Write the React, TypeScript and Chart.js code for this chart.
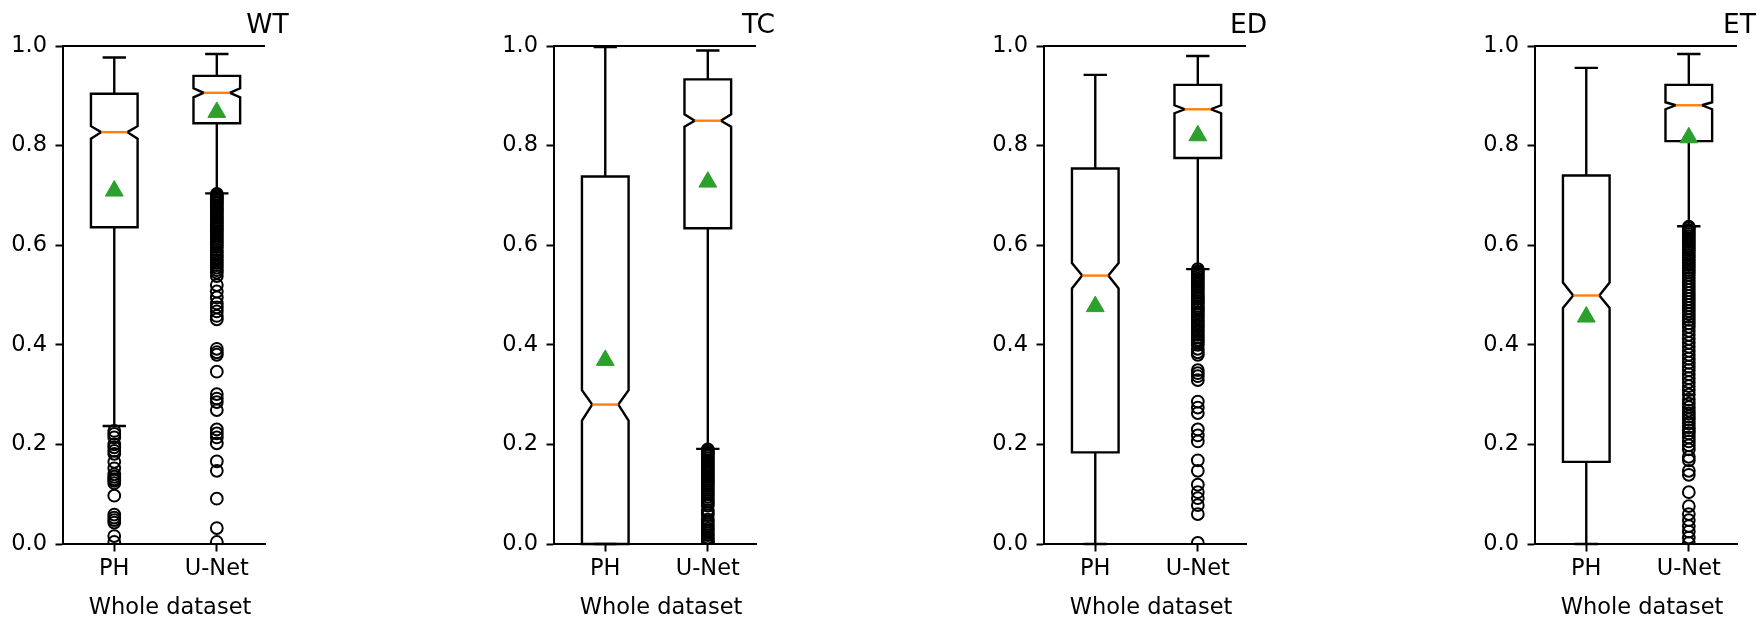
import React, { useEffect, useRef } from 'react';
import { Chart, registerables } from 'chart.js';

Chart.register(...registerables);

// ---------------- data ----------------
const categories = ['PH', 'U-Net'];
const panelTitles = ['WT', 'TC', 'ED', 'ET'];
const xAxisTitle = 'Whole dataset';
const yTickStep = 0.2;

// each row: one panel, [PH, U-Net]
const whiskerLow = [[0.237, 0.704], [0.0, 0.191], [0.0, 0.552], [0.0, 0.638]];
const q1Values = [[0.636, 0.845], [0.0, 0.634], [0.184, 0.775], [0.165, 0.809]];
const notchLow = [[0.814, 0.897], [0.248, 0.838], [0.513, 0.865], [0.474, 0.873]];
const medianValues = [[0.827, 0.906], [0.28, 0.85], [0.539, 0.873], [0.499, 0.881]];
const notchHigh = [[0.839, 0.915], [0.309, 0.863], [0.564, 0.881], [0.525, 0.887]];
const q3Values = [[0.904, 0.94], [0.738, 0.933], [0.754, 0.922], [0.74, 0.922]];
const whiskerHigh = [[0.977, 0.984], [0.998, 0.991], [0.942, 0.98], [0.956, 0.984]];
const meanValues = [[0.709, 0.867], [0.369, 0.727], [0.477, 0.82], [0.456, 0.816]];

const wtPhOutliers = [0.227, 0.221, 0.214, 0.2, 0.194, 0.187, 0.181, 0.165, 0.152, 0.14, 0.135, 0.13, 0.127, 0.122, 0.097, 0.059, 0.053, 0.048, 0.043, 0.016, 0.004];
const wtUnetOutliers = [0.703, 0.7, 0.697, 0.694, 0.69, 0.687, 0.684, 0.68, 0.677, 0.673, 0.67, 0.666, 0.662, 0.658, 0.655, 0.651, 0.648, 0.644, 0.64, 0.636, 0.632, 0.628, 0.624, 0.62, 0.616, 0.612, 0.608, 0.604, 0.6, 0.596, 0.59, 0.585, 0.58, 0.575, 0.57, 0.565, 0.56, 0.555, 0.55, 0.545, 0.538, 0.52, 0.507, 0.495, 0.483, 0.475, 0.467, 0.458, 0.451, 0.392, 0.385, 0.38, 0.346, 0.301, 0.292, 0.285, 0.269, 0.23, 0.222, 0.214, 0.202, 0.166, 0.147, 0.091, 0.032, 0.004];
const tcPhOutliers: number[] = [];
const tcUnetOutliers = [0.19, 0.186, 0.183, 0.18, 0.176, 0.172, 0.168, 0.165, 0.161, 0.158, 0.154, 0.15, 0.146, 0.142, 0.138, 0.135, 0.131, 0.127, 0.123, 0.12, 0.116, 0.112, 0.108, 0.104, 0.1, 0.095, 0.09, 0.086, 0.081, 0.077, 0.068, 0.063, 0.058, 0.049, 0.045, 0.04, 0.036, 0.031, 0.027, 0.022, 0.018, 0.013, 0.009, 0.005, 0.002, 0.0];
const edPhOutliers: number[] = [];
const edUnetOutliers = [0.552, 0.548, 0.545, 0.541, 0.537, 0.533, 0.53, 0.526, 0.522, 0.518, 0.514, 0.51, 0.505, 0.5, 0.496, 0.492, 0.487, 0.483, 0.478, 0.474, 0.47, 0.465, 0.46, 0.455, 0.45, 0.445, 0.44, 0.435, 0.43, 0.425, 0.42, 0.415, 0.41, 0.405, 0.4, 0.392, 0.385, 0.38, 0.349, 0.343, 0.337, 0.329, 0.286, 0.274, 0.263, 0.23, 0.218, 0.206, 0.168, 0.147, 0.119, 0.104, 0.092, 0.078, 0.06, 0.002];
const etPhOutliers: number[] = [];
const etUnetOutliers = [0.637, 0.634, 0.63, 0.626, 0.622, 0.618, 0.614, 0.61, 0.606, 0.602, 0.598, 0.594, 0.59, 0.585, 0.58, 0.575, 0.57, 0.565, 0.56, 0.555, 0.55, 0.545, 0.54, 0.534, 0.528, 0.522, 0.516, 0.51, 0.504, 0.498, 0.492, 0.486, 0.48, 0.474, 0.468, 0.462, 0.456, 0.45, 0.443, 0.436, 0.428, 0.42, 0.412, 0.404, 0.396, 0.388, 0.38, 0.372, 0.364, 0.356, 0.349, 0.341, 0.333, 0.325, 0.317, 0.309, 0.3, 0.29, 0.282, 0.275, 0.268, 0.262, 0.256, 0.25, 0.242, 0.234, 0.228, 0.222, 0.214, 0.206, 0.198, 0.19, 0.175, 0.168, 0.147, 0.139, 0.104, 0.076, 0.06, 0.048, 0.036, 0.025, 0.013, 0.002];

const outliers = [
  [wtPhOutliers, wtUnetOutliers],
  [tcPhOutliers, tcUnetOutliers],
  [edPhOutliers, edUnetOutliers],
  [etPhOutliers, etUnetOutliers],
];

// ---------------- style / layout ----------------
const FONT = '"DejaVu Sans", "Liberation Sans", sans-serif';
const TICK_FONT = 22.5;
const TITLE_FONT = 26.5;
const panelLeft = [0, 491, 981, 1472];
const CANVAS_W = 290;
const CANVAS_H = 618;
const BOX_WIDTH = 0.455;
const NOTCH_FRAC = 0.28;
const LW = 2.4;
const SPINE_W = 2.0;
const ORANGE = '#ff7f0e';
const GREEN = '#2ca02c';

const boxPlugin = {
  id: 'notchedBox',
  beforeDatasetsDraw(chart: any, _args: any, opts: any) {
    const p = opts.panel;
    const { ctx, chartArea, scales } = chart;
    const xs = scales.x;
    const ys = scales.y;
    const X = (v: number) => xs.getPixelForValue(v);
    const Y = (v: number) => ys.getPixelForValue(v);
    ctx.save();
    ctx.beginPath();
    ctx.rect(chartArea.left, chartArea.top - 2, chartArea.right - chartArea.left, chartArea.bottom - chartArea.top + 4);
    ctx.clip();
    categories.forEach((_c, i) => {
      const pos = i + 1;
      const cx = X(pos);
      const L = X(pos - BOX_WIDTH / 2);
      const R = X(pos + BOX_WIDTH / 2);
      const NL = X(pos - BOX_WIDTH * NOTCH_FRAC);
      const NR = X(pos + BOX_WIDTH * NOTCH_FRAC);
      const CL = X(pos - BOX_WIDTH / 4);
      const CR = X(pos + BOX_WIDTH / 4);
      const q1 = Y(q1Values[p][i]);
      const q3 = Y(q3Values[p][i]);
      const med = Y(medianValues[p][i]);
      const lo = Y(notchLow[p][i]);
      const hi = Y(notchHigh[p][i]);
      const wl = Y(whiskerLow[p][i]);
      const wh = Y(whiskerHigh[p][i]);
      ctx.strokeStyle = '#000';
      ctx.lineWidth = LW;
      ctx.lineJoin = 'miter';
      ctx.lineCap = 'butt';
      // box
      ctx.beginPath();
      ctx.moveTo(L, q1);
      ctx.lineTo(R, q1);
      ctx.lineTo(R, lo);
      ctx.lineTo(NR, med);
      ctx.lineTo(R, hi);
      ctx.lineTo(R, q3);
      ctx.lineTo(L, q3);
      ctx.lineTo(L, hi);
      ctx.lineTo(NL, med);
      ctx.lineTo(L, lo);
      ctx.closePath();
      ctx.stroke();
      // whiskers
      ctx.beginPath();
      ctx.moveTo(cx, q1);
      ctx.lineTo(cx, wl);
      ctx.moveTo(cx, q3);
      ctx.lineTo(cx, wh);
      ctx.stroke();
      // caps
      ctx.beginPath();
      ctx.moveTo(CL, wl);
      ctx.lineTo(CR, wl);
      ctx.moveTo(CL, wh);
      ctx.lineTo(CR, wh);
      ctx.stroke();
      // median
      ctx.strokeStyle = ORANGE;
      ctx.beginPath();
      ctx.moveTo(NL, med);
      ctx.lineTo(NR, med);
      ctx.stroke();
    });
    ctx.restore();
  },
  afterDraw(chart: any, _args: any, opts: any) {
    const { ctx, chartArea } = chart;
    ctx.save();
    // top spine
    ctx.strokeStyle = '#000';
    ctx.lineWidth = SPINE_W;
    ctx.beginPath();
    ctx.moveTo(chartArea.left - SPINE_W / 2, chartArea.top);
    ctx.lineTo(chartArea.right, chartArea.top);
    ctx.stroke();
    ctx.fillStyle = '#000';
    ctx.textBaseline = 'alphabetic';
    ctx.textAlign = 'center';
    // panel title
    ctx.font = TITLE_FONT + 'px ' + FONT;
    ctx.fillText(panelTitles[opts.panel], chartArea.right + 2.5, chartArea.top - 13);
    // x axis label
    ctx.font = TICK_FONT + 'px ' + FONT;
    ctx.fillText(xAxisTitle, (chartArea.left + chartArea.right) / 2 + 6, chartArea.bottom + 69.5);
    ctx.restore();
  },
};

function Panel({ index }: { index: number }) {
  const ref = useRef<HTMLCanvasElement | null>(null);
  useEffect(() => {
    if (!ref.current) return;
    const meanData = categories.map((_c, i) => ({ x: i + 1, y: meanValues[index][i] }));
    const flierSets = categories.map((c, i) => ({
      label: c + ' outliers',
      data: outliers[index][i].map((v) => ({ x: i + 1, y: v })),
      pointStyle: 'circle',
      pointRadius: 5.9,
      pointBorderWidth: 2.0,
      pointBorderColor: '#000',
      pointBackgroundColor: 'rgba(0,0,0,0)',
      clip: 0,
    }));
    const chart = new Chart(ref.current, {
      type: 'scatter',
      data: {
        datasets: [
          {
            label: 'mean',
            data: meanData,
            pointStyle: 'triangle',
            pointRadius: 10.3,
            pointBorderWidth: 1,
            pointBorderColor: GREEN,
            pointBackgroundColor: GREEN,
            clip: 0,
          },
          ...flierSets,
        ] as any,
      },
      options: {
        animation: false,
        responsive: false,
        devicePixelRatio: 1,
        events: [],
        layout: { padding: { top: 46, right: 25, left: 0, bottom: 0 } },
        plugins: {
          legend: { display: false },
          tooltip: { enabled: false },
          title: { display: false },
          notchedBox: { panel: index },
        } as any,
        scales: {
          x: {
            type: 'linear',
            min: 0.5,
            max: 2.47,
            afterBuildTicks: (scale: any) => {
              scale.ticks = categories.map((_c, i) => ({ value: i + 1 }));
            },
            afterFit: (scale: any) => {
              scale.height = 74;
            },
            ticks: {
              autoSkip: false,
              maxRotation: 0,
              padding: 4.5,
              color: '#000',
              font: { family: FONT, size: TICK_FONT },
              callback: (v: any) => categories[Math.round(Number(v)) - 1] ?? '',
            },
            grid: {
              drawOnChartArea: false,
              drawTicks: true,
              tickLength: 7.5,
              tickWidth: SPINE_W,
              tickColor: '#000',
            },
            border: { display: true, color: '#000', width: SPINE_W },
            title: { display: false },
          },
          y: {
            type: 'linear',
            min: 0,
            max: 1,
            afterFit: (scale: any) => {
              scale.width = 63;
            },
            ticks: {
              stepSize: yTickStep,
              padding: 8.5,
              color: '#000',
              font: { family: FONT, size: TICK_FONT },
              callback: (v: any) => Number(v).toFixed(1),
            },
            grid: {
              drawOnChartArea: false,
              drawTicks: true,
              tickLength: 7.5,
              tickWidth: SPINE_W,
              tickColor: '#000',
            },
            border: { display: true, color: '#000', width: SPINE_W },
          },
        },
      } as any,
      plugins: [boxPlugin as any],
    });
    return () => chart.destroy();
  }, [index]);
  return (
    <canvas
      ref={ref}
      width={CANVAS_W}
      height={CANVAS_H}
      style={{ position: 'absolute', left: panelLeft[index], top: 0, width: CANVAS_W, height: CANVAS_H }}
    />
  );
}

export default function App() {
  return (
    <div
      style={{
        position: 'absolute',
        left: 0,
        top: 0,
        width: 1761,
        height: 618,
        overflow: 'hidden',
        background: '#fff',
      }}
    >
      {panelTitles.map((_t, i) => (
        <Panel key={i} index={i} />
      ))}
    </div>
  );
}
